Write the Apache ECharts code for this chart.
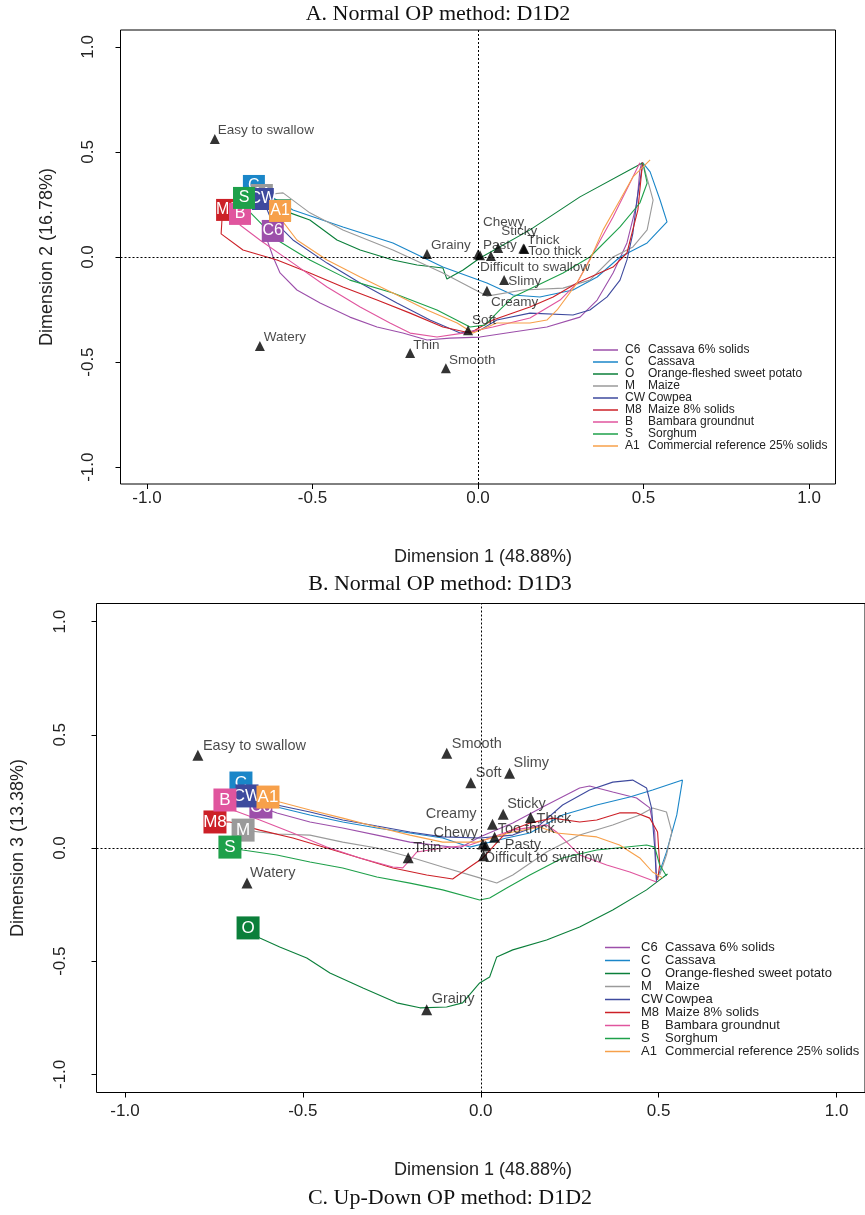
<!DOCTYPE html>
<html><head><meta charset="utf-8">
<script src="https://cdn.jsdelivr.net/npm/echarts@6/dist/echarts.min.js"></script>
<style>html,body{margin:0;padding:0;background:#fff}#c{width:865px;height:1215px}</style>
</head><body><div id="c"></div>
<script>
// ---------- categories ----------
const products = ['C6','C','O','M','CW','M8','B','S','A1'];
const productNames = ['Cassava 6% solids','Cassava','Orange-fleshed sweet potato','Maize','Cowpea','Maize 8% solids','Bambara groundnut','Sorghum','Commercial reference 25% solids'];
const productColors = ['#9C4FAA','#1A86C8','#0B7F3A','#9A9A9A','#3E4A9E','#CC2027','#E0559E','#1EA04A','#F7A04A'];
const attributes = ['Easy to swallow','Watery','Grainy','Chewy','Pasty','Difficult to swallow','Sticky','Thick','Too thick','Slimy','Creamy','Soft','Thin','Smooth'];
const tickValues = [-1, -0.5, 0, 0.5, 1];

// ---------- Panel A (D1 x D2) trajectories ----------
const a_C6 = [[-0.62,0.124],[-0.637,0.081],[-0.619,0.0],[-0.598,-0.076],[-0.547,-0.157],[-0.477,-0.219],[-0.387,-0.286],[-0.305,-0.333],[-0.227,-0.362],[-0.154,-0.395],[-0.085,-0.386],[0.006,-0.381],[0.106,-0.357],[0.208,-0.333],[0.308,-0.286],[0.36,-0.205],[0.408,-0.076],[0.45,0.067],[0.48,0.257],[0.489,0.414],[0.495,0.45]];
const a_C = [[-0.677,0.338],[-0.559,0.224],[-0.408,0.143],[-0.257,0.067],[-0.106,-0.048],[0.027,-0.124],[0.106,-0.181],[0.187,-0.19],[0.287,-0.157],[0.36,-0.095],[0.429,0.0],[0.511,0.067],[0.571,0.167],[0.55,0.271],[0.52,0.405],[0.498,0.448]];
const a_O = [[-0.598,0.222],[-0.568,0.21],[-0.508,0.176],[-0.426,0.081],[-0.356,0.033],[-0.257,-0.014],[-0.184,-0.038],[-0.106,-0.052],[-0.094,-0.105],[-0.045,-0.062],[0.006,-0.005],[0.157,0.129],[0.308,0.286],[0.498,0.448]];
const a_M = [[-0.653,0.295],[-0.589,0.305],[-0.508,0.21],[-0.408,0.129],[-0.257,0.033],[-0.106,-0.076],[0.027,-0.186],[0.136,-0.157],[0.257,-0.148],[0.338,-0.11],[0.408,0.0],[0.468,0.048],[0.511,0.129],[0.529,0.271],[0.498,0.448]];
const a_CW = [[-0.65,0.276],[-0.628,0.19],[-0.559,0.081],[-0.456,-0.029],[-0.356,-0.124],[-0.245,-0.219],[-0.145,-0.3],[-0.054,-0.362],[0.006,-0.348],[0.057,-0.3],[0.157,-0.267],[0.287,-0.276],[0.338,-0.252],[0.39,-0.19],[0.429,-0.11],[0.45,-0.014],[0.468,0.114],[0.48,0.271],[0.498,0.448]];
const a_M8 = [[-0.758,0.224],[-0.773,0.19],[-0.776,0.11],[-0.71,0.033],[-0.607,-0.014],[-0.508,-0.076],[-0.408,-0.143],[-0.305,-0.205],[-0.205,-0.267],[-0.106,-0.333],[-0.024,-0.362],[0.045,-0.3],[0.157,-0.238],[0.227,-0.19],[0.299,-0.124],[0.408,-0.048],[0.45,0.019],[0.483,0.224],[0.495,0.414],[0.497,0.45]];
const a_B = [[-0.719,0.205],[-0.719,0.152],[-0.659,0.081],[-0.559,-0.029],[-0.456,-0.143],[-0.356,-0.238],[-0.266,-0.314],[-0.205,-0.362],[-0.124,-0.381],[-0.045,-0.362],[0.045,-0.333],[0.157,-0.29],[0.248,-0.205],[0.299,-0.124],[0.353,0.033],[0.408,0.19],[0.459,0.352],[0.489,0.448]];
const a_S = [[-0.707,0.281],[-0.689,0.214],[-0.607,0.081],[-0.508,-0.014],[-0.387,-0.11],[-0.257,-0.171],[-0.124,-0.252],[-0.024,-0.333],[0.021,-0.324],[0.066,-0.252],[0.106,-0.19],[0.257,-0.076],[0.338,0.0],[0.429,0.143],[0.489,0.257],[0.511,0.352],[0.498,0.448]];
const a_A1 = [[-0.598,0.219],[-0.589,0.167],[-0.547,0.081],[-0.456,-0.014],[-0.356,-0.095],[-0.257,-0.171],[-0.154,-0.252],[-0.063,-0.314],[-0.015,-0.362],[0.057,-0.314],[0.157,-0.314],[0.208,-0.3],[0.239,-0.252],[0.299,-0.124],[0.338,-0.014],[0.378,0.129],[0.429,0.271],[0.468,0.381],[0.52,0.462]];
const a_attrX = [-0.795,-0.659,-0.154,0.0,0.039,0.006,0.061,0.137,0.14,0.079,0.027,-0.03,-0.205,-0.097];
const a_attrY = [0.562,-0.424,0.014,0.012,0.005,0.008,0.043,0.04,0.038,-0.11,-0.16,-0.348,-0.457,-0.529];

// ---------- Panel B (D1 x D3) trajectories ----------
const b_C6 = [[-0.618,0.181],[-0.573,0.155],[-0.48,0.115],[-0.388,0.088],[-0.292,0.057],[-0.199,0.026],[-0.059,0.0],[-0.003,0.049],[0.09,0.11],[0.185,0.19],[0.278,0.265],[0.306,0.274],[0.371,0.247],[0.438,0.221],[0.475,0.177],[0.489,0.071],[0.494,-0.141]];
const b_C = [[-0.674,0.287],[-0.573,0.181],[-0.48,0.146],[-0.388,0.115],[-0.292,0.088],[-0.199,0.066],[-0.107,0.044],[-0.031,0.004],[0.073,0.044],[0.138,0.066],[0.23,0.146],[0.326,0.19],[0.419,0.225],[0.483,0.256],[0.567,0.3],[0.551,0.146],[0.522,-0.018],[0.497,-0.132]];
const b_O = [[-0.654,-0.353],[-0.621,-0.397],[-0.565,-0.437],[-0.489,-0.486],[-0.424,-0.552],[-0.331,-0.618],[-0.236,-0.684],[-0.171,-0.706],[-0.096,-0.702],[-0.051,-0.684],[-0.003,-0.596],[0.025,-0.57],[0.045,-0.481],[0.09,-0.45],[0.185,-0.406],[0.278,-0.349],[0.371,-0.274],[0.466,-0.185],[0.503,-0.141],[0.525,-0.115]];
const b_M = [[-0.668,0.079],[-0.573,0.062],[-0.48,0.057],[-0.388,0.026],[-0.292,0.0],[-0.199,-0.04],[-0.107,-0.084],[-0.003,-0.132],[0.045,-0.155],[0.09,-0.119],[0.185,-0.018],[0.278,0.057],[0.371,0.102],[0.447,0.146],[0.483,0.177],[0.522,0.159],[0.537,0.071],[0.522,-0.031],[0.503,-0.119]];
const b_CW = [[-0.657,0.23],[-0.573,0.19],[-0.48,0.159],[-0.388,0.124],[-0.292,0.097],[-0.199,0.071],[-0.107,0.049],[-0.003,0.044],[0.09,0.057],[0.166,0.102],[0.23,0.19],[0.306,0.256],[0.371,0.291],[0.427,0.3],[0.466,0.265],[0.48,0.177],[0.489,0.0],[0.494,-0.15]];
const b_M8 = [[-0.747,0.115],[-0.705,0.115],[-0.621,0.079],[-0.528,0.044],[-0.433,0.0],[-0.34,-0.044],[-0.247,-0.088],[-0.152,-0.119],[-0.079,-0.137],[-0.031,-0.084],[0.006,-0.044],[0.073,0.071],[0.138,0.11],[0.202,0.132],[0.278,0.115],[0.326,0.124],[0.39,0.155],[0.438,0.155],[0.475,0.132],[0.497,0.071],[0.503,-0.075],[0.497,-0.141]];
const b_B = [[-0.719,0.212],[-0.697,0.168],[-0.621,0.124],[-0.528,0.066],[-0.433,0.004],[-0.34,-0.044],[-0.247,-0.084],[-0.219,-0.088],[-0.199,-0.053],[-0.18,-0.018],[-0.107,0.0],[-0.031,0.013],[0.09,0.079],[0.185,0.102],[0.213,0.071],[0.278,-0.031],[0.354,-0.075],[0.419,-0.106],[0.494,-0.15]];
const b_S = [[-0.705,0.004],[-0.669,-0.009],[-0.573,-0.031],[-0.48,-0.062],[-0.388,-0.088],[-0.292,-0.128],[-0.199,-0.155],[-0.107,-0.185],[-0.003,-0.23],[0.025,-0.221],[0.073,-0.177],[0.138,-0.119],[0.23,-0.044],[0.326,-0.009],[0.466,0.013],[0.489,0.004],[0.503,-0.075],[0.522,-0.124]];
const b_A1 = [[-0.598,0.225],[-0.565,0.203],[-0.48,0.168],[-0.388,0.132],[-0.292,0.093],[-0.199,0.057],[-0.107,0.026],[-0.011,0.026],[0.09,0.071],[0.166,0.093],[0.213,0.066],[0.326,0.049],[0.39,0.013],[0.447,-0.044],[0.483,-0.106],[0.511,-0.132]];
const b_attrX = [-0.795,-0.657,-0.152,0.006,0.014,0.008,0.063,0.14,0.039,0.081,0.033,-0.028,-0.204,-0.0955];
const b_attrY = [0.41,-0.155,-0.715,0.018,0.009,-0.034,0.149,0.135,0.047,0.33,0.105,0.288,-0.043,0.419];

// ---------- label placement styles (pixel offsets, not data) ----------
const a_labelStyle = {'Easy to swallow':[3,-9,'left'],'Watery':[4,-9,'left'],'Grainy':[4,-9,'left'],'Chewy':[5,-32,'left'],'Pasty':[-8,-11,'left'],'Difficult to swallow':[0,12,'left'],'Sticky':[3,-17,'left'],'Thick':[4,-8,'left'],'Too thick':[4,2,'left'],'Slimy':[4,1,'left'],'Creamy':[4,12,'left'],'Soft':[4,-10,'left'],'Thin':[3,-8,'left'],'Smooth':[3,-8,'left']};
const b_labelStyle = {'Easy to swallow':[5,-9,'left'],'Watery':[3,-10,'left'],'Grainy':[5,-11,'left'],'Chewy':[-5,-11,'right'],'Pasty':[19,-1,'left'],'Difficult to swallow':[1,2,'left'],'Sticky':[4,-10,'left'],'Thick':[6,2,'left'],'Too thick':[3,-8,'left'],'Slimy':[4,-10,'left'],'Creamy':[-16,-10,'right'],'Soft':[5,-10,'left'],'Thin':[5,-10,'left'],'Smooth':[5,-9,'left']};

const panels = [
  {traj:[a_C6,a_C,a_O,a_M,a_CW,a_M8,a_B,a_S,a_A1], ax:a_attrX, ay:a_attrY, ls:a_labelStyle, attrFont:13.5, box:22, boxFont:16, tri:10},
  {traj:[b_C6,b_C,b_O,b_M,b_CW,b_M8,b_B,b_S,b_A1], ax:b_attrX, ay:b_attrY, ls:b_labelStyle, attrFont:14.5, box:23, boxFont:17, tri:11}
];

const SANS = 'Liberation Sans, Arial, sans-serif';
const SERIF = 'Liberation Serif, Times New Roman, serif';

const series = [];
panels.forEach((p, pi) => {
  p.traj.forEach((d, i) => series.push({
    type:'line', name:productNames[i], xAxisIndex:pi, yAxisIndex:pi, data:d, symbol:'none',
    lineStyle:{color:productColors[i], width:1.1}, itemStyle:{color:productColors[i]}, z:2, silent:true
  }));
  series.push({
    type:'scatter', name:'attr'+pi, xAxisIndex:pi, yAxisIndex:pi, symbol:'triangle', symbolSize:p.tri,
    itemStyle:{color:'#000'}, z:3, silent:true,
    data: attributes.map((n,k) => {
      const s = p.ls[n];
      return {name:n, value:[p.ax[k], p.ay[k]], label:{offset:[s[0], s[1]], align:s[2]}};
    }),
    label:{show:true, position:'inside', formatter:'{b}', fontFamily:SANS, fontSize:p.attrFont, color:'#1a1a1a', verticalAlign:'middle'},
    markLine:{silent:true, symbol:'none', label:{show:false}, lineStyle:{color:'#000', type:[2,2], width:1}, data:[{xAxis:0},{yAxis:0}]}
  });
  // squares: each product on its own z so later squares hide earlier labels
  p.traj.forEach((d, i) => series.push({
    type:'scatter', name:productNames[i], xAxisIndex:pi, yAxisIndex:pi, symbol:'rect', symbolSize:p.box,
    data:[d[0]], itemStyle:{color:productColors[i], opacity:1}, z:10 + i, silent:true,
    label:{show:true, position:'inside', formatter:products[i], color:'#fff', fontFamily:SANS, fontSize:p.boxFont}
  }));
});

function xAx(gi, margin){
  return {type:'value', gridIndex:gi, min:-1.08, max:1.08, axisLine:{show:false, onZero:false}, splitLine:{show:false},
    axisTick:{show:true, customValues:tickValues, length:5, lineStyle:{color:'#000'}},
    axisLabel:{customValues:tickValues, formatter:v=>v.toFixed(1), fontFamily:SANS, fontSize:17, color:'#222', margin:margin}};
}
function yAx(gi, margin){
  const a = xAx(gi, margin);
  a.axisLabel.rotate = 90;
  return a;
}

const legendFmt = n => '{c|' + products[productNames.indexOf(n)] + '}{n|' + n + '}';
const option = {
  animation:false,
  backgroundColor:'#fff',
  grid:[
    {left:120.5, top:30, width:715, height:454, show:true, borderColor:'#000', borderWidth:1, backgroundColor:'transparent'},
    {left:96.5, top:603.5, width:769, height:489, show:true, borderColor:'#000', borderWidth:1, backgroundColor:'transparent'}
  ],
  xAxis:[xAx(0,6), xAx(1,10)],
  yAxis:[yAx(0,24), yAx(1,28)],
  legend:[
    {data:productNames, left:588, top:339, orient:'vertical', icon:'rect', itemWidth:25, itemHeight:1.5, itemGap:0, selectedMode:false,
     formatter:legendFmt, textStyle:{rich:{c:{width:23, fontFamily:SANS, fontSize:12, lineHeight:14.75, color:'#222', padding:[0,0,0,2]}, n:{fontFamily:SANS, fontSize:12, lineHeight:14.75, color:'#222'}}}},
    {data:productNames, left:600, top:936, orient:'vertical', icon:'rect', itemWidth:25, itemHeight:1.5, itemGap:0, selectedMode:false,
     formatter:legendFmt, textStyle:{rich:{c:{width:24, fontFamily:SANS, fontSize:13, lineHeight:16.25, color:'#222', padding:[0,0,0,6]}, n:{fontFamily:SANS, fontSize:13, lineHeight:16.25, color:'#222'}}}}
  ],
  graphic:[
    {type:'text', x:438, y:14, style:{text:'A. Normal OP method: D1D2', font:'22px '+SERIF, fill:'#111', textAlign:'center', textVerticalAlign:'middle'}},
    {type:'text', x:440, y:584, style:{text:'B. Normal OP method: D1D3', font:'22px '+SERIF, fill:'#111', textAlign:'center', textVerticalAlign:'middle'}},
    {type:'text', x:450, y:1198, style:{text:'C. Up-Down OP method: D1D2', font:'22px '+SERIF, fill:'#111', textAlign:'center', textVerticalAlign:'middle'}},
    {type:'text', x:483, y:557, style:{text:'Dimension 1 (48.88%)', font:'18px '+SANS, fill:'#222', textAlign:'center', textVerticalAlign:'middle'}},
    {type:'text', x:483, y:1170, style:{text:'Dimension 1 (48.88%)', font:'18px '+SANS, fill:'#222', textAlign:'center', textVerticalAlign:'middle'}},
    {type:'text', x:47, y:257, rotation:Math.PI/2, style:{text:'Dimension 2 (16.78%)', font:'18px '+SANS, fill:'#222', textAlign:'center', textVerticalAlign:'middle'}},
    {type:'text', x:18, y:848, rotation:Math.PI/2, style:{text:'Dimension 3 (13.38%)', font:'18px '+SANS, fill:'#222', textAlign:'center', textVerticalAlign:'middle'}}
  ],
  series:series
};
const chart = echarts.init(document.getElementById('c'));
chart.setOption(option);
</script></body></html>
